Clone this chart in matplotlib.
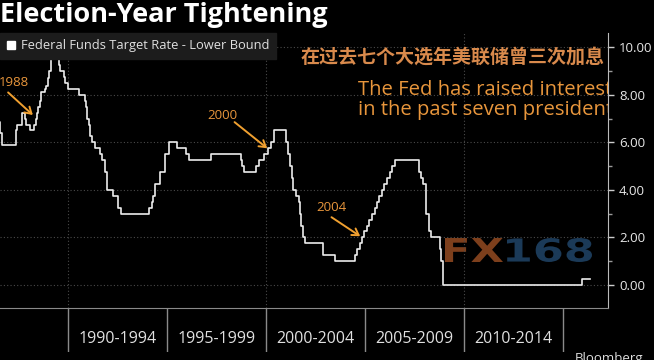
import matplotlib
matplotlib.use("Agg")
import matplotlib.pyplot as plt
from matplotlib.lines import Line2D
from matplotlib.textpath import TextPath
from matplotlib.patches import PathPatch
from matplotlib.font_manager import FontProperties
from matplotlib.transforms import Affine2D
from datetime import date

# Fed funds target (lower bound) - change dates and new levels
change_dates = [
    "1986-06-01", "1986-07-11", "1986-08-21", "1987-04-30", "1987-05-20",
    "1987-09-04", "1987-10-22", "1987-11-04", "1988-01-28", "1988-03-29",
    "1988-05-09", "1988-05-25", "1988-06-22", "1988-07-19", "1988-08-08",
    "1988-10-20", "1988-11-17", "1988-12-15", "1988-12-29", "1989-02-09",
    "1989-02-14", "1989-02-23", "1989-06-06", "1989-07-07", "1989-07-27",
    "1989-10-18", "1989-11-06", "1989-12-20", "1990-07-13", "1990-10-29",
    "1990-11-14", "1990-12-07", "1990-12-19", "1991-01-09", "1991-02-01",
    "1991-03-08", "1991-04-30", "1991-08-06", "1991-09-13", "1991-10-31",
    "1991-11-06", "1991-12-06", "1991-12-20", "1992-04-09", "1992-07-02",
    "1992-09-04", "1994-02-04", "1994-03-22", "1994-04-18", "1994-05-17",
    "1994-08-16", "1994-11-15", "1995-02-01", "1995-07-06", "1995-12-19",
    "1996-01-31", "1997-03-25", "1998-09-29", "1998-10-15", "1998-11-17",
    "1999-06-30", "1999-08-24", "1999-11-16", "2000-02-02", "2000-03-21",
    "2000-05-16", "2001-01-03", "2001-01-31", "2001-03-20", "2001-04-18",
    "2001-05-15", "2001-06-27", "2001-08-21", "2001-09-17", "2001-10-02",
    "2001-11-06", "2001-12-11", "2002-11-06", "2003-06-25", "2004-06-30",
    "2004-08-10", "2004-09-21", "2004-11-10", "2004-12-14", "2005-02-02",
    "2005-03-22", "2005-05-03", "2005-06-30", "2005-08-09", "2005-09-20",
    "2005-11-01", "2005-12-13", "2006-01-31", "2006-03-28", "2006-05-10",
    "2006-06-29", "2007-09-18", "2007-10-31", "2007-12-11", "2008-01-22",
    "2008-01-30", "2008-03-18", "2008-04-30", "2008-10-08", "2008-10-29",
    "2008-12-16", "2015-12-16", "2016-05-15",
]
rates = [
    6.875, 6.375, 5.875, 6.5, 6.75,
    7.25, 7.0, 6.75, 6.5, 6.75,
    7.0, 7.25, 7.5, 7.75, 8.125,
    8.25, 8.375, 8.6875, 9.0, 9.25,
    9.5, 9.75, 9.5, 9.25, 9.0,
    8.75, 8.5, 8.25, 8.0, 7.75,
    7.5, 7.25, 7.0, 6.75, 6.25,
    6.0, 5.75, 5.5, 5.25, 5.0,
    4.75, 4.5, 4.0, 3.75, 3.25,
    3.0, 3.25, 3.5, 3.75, 4.25,
    4.75, 5.5, 6.0, 5.75, 5.5,
    5.25, 5.5, 5.25, 5.0, 4.75,
    5.0, 5.25, 5.5, 5.75, 6.0,
    6.5, 6.0, 5.5, 5.0, 4.5,
    4.0, 3.75, 3.5, 3.0, 2.5,
    2.0, 1.75, 1.25, 1.0, 1.25,
    1.5, 1.75, 2.0, 2.25, 2.5,
    2.75, 3.0, 3.25, 3.5, 3.75,
    4.0, 4.25, 4.5, 4.75, 5.0,
    5.25, 4.75, 4.5, 4.25, 3.5,
    3.0, 2.25, 2.0, 1.5, 1.0,
    0.0, 0.25, 0.25,
]

period_edges = [1990, 1995, 2000, 2005, 2010, 2015]
period_labels = ["1990-1994", "1995-1999", "2000-2004", "2005-2009", "2010-2014"]

# (label, text pos, arrow tail, arrow tip) in year / rate
notes = [
    ("1988", (1987.25, 8.5), (1986.95, 8.1), (1988.2, 7.15)),
    ("2000", (1997.8, 7.15), (1998.4, 6.85), (2000.05, 5.75)),
    ("2004", (2003.3, 3.25), (2003.3, 2.85), (2004.75, 2.05)),
]


def to_year(s):
    d = date.fromisoformat(s)
    return d.year + (d - date(d.year, 1, 1)).days / 365.25


years = [to_year(s) for s in change_dates]

W, H = 654, 360
fig = plt.figure(figsize=(W / 100, H / 100), dpi=100, facecolor="black")
ax = fig.add_axes([0, 1 - 308 / H, 608 / W, (308 - 33) / H])
ax.set_facecolor("black")

orange = "#e8963c"
sans = ["Open Sans", "DejaVu Sans"]

ax.step(years, rates, where="post", color="#ececec", lw=1.2, zorder=3)

ax.set_xlim(1986.54, 2017.28)
ax.set_ylim(-0.97, 10.6)

ax.yaxis.tick_right()
ax.set_yticks([0, 2, 4, 6, 8, 10])
ax.set_yticklabels(["%.2f" % v for v in [0, 2, 4, 6, 8, 10]], family=sans)
ax.set_yticks([1, 3, 5, 7, 9], minor=True)
ax.tick_params(axis="y", which="major", direction="out", length=4, width=1,
               color="#cccccc", labelcolor="#e8e8e8", labelsize=9.5, pad=4)
ax.tick_params(axis="y", which="minor", direction="out", length=3, width=1,
               color="#999999")
ax.set_xticks([1990, 2000, 2010])
ax.tick_params(axis="x", length=0, labelbottom=False)
ax.grid(True, which="major", color="#4a4a4a", lw=0.8, ls=(0, (1, 2)))

for s in ["left", "top"]:
    ax.spines[s].set_visible(False)
ax.spines["right"].set_color("#bbbbbb")
ax.spines["bottom"].set_color("#8a8a8a")

# legend box
h = Line2D([], [], marker="s", ls="none", color="white", markersize=6)
leg = ax.legend([h], ["Federal Funds Target Rate - Lower Bound"], loc="upper left",
                bbox_to_anchor=(0, 1), borderaxespad=0, fancybox=False,
                facecolor="#1c1c1c", edgecolor="#1c1c1c", framealpha=1,
                handlelength=0.7, handletextpad=0.4, borderpad=0.5,
                prop={"family": sans, "size": 9.3})
for t in leg.get_texts():
    t.set_color("#e0e0e0")

# annotations
for label, tpos, tail, tip in notes:
    ax.text(tpos[0], tpos[1], label, color=orange, fontsize=9.5, family=sans,
            ha="center", va="center", zorder=4)
    ax.annotate("", xy=tip, xytext=tail,
                arrowprops=dict(arrowstyle="->,head_length=0.45,head_width=0.28",
                                color="#f0a030", lw=1.4, shrinkA=0, shrinkB=0))

# watermark, stretched to its box (pixel box from top-left)
px = Affine2D().scale(1 / W, 1 / H) + fig.transFigure
fp = FontProperties(family="DejaVu Sans", weight="bold")
for txt, box, col in [("FX", (445, 503, 238, 262), "#7d3f1c"),
                      ("168", (507, 592, 238, 262), "#1b3a58")]:
    p = TextPath((0, 0), txt, size=100, prop=fp)
    e = p.get_extents()
    tr = (Affine2D().translate(-e.x0, -e.y0)
          .scale((box[1] - box[0]) / e.width, (box[3] - box[2]) / e.height)
          .translate(box[0], H - box[3]))
    ax.add_patch(PathPatch(p, transform=tr + px, fc=col, lw=0, zorder=1))

# headline texts
fig.text(0.0, 1 - 15 / H, "Election-Year Tightening", color="white",
         fontsize=19.5, fontweight="bold", family=sans,
         ha="left", va="center")
fig.text(605 / W, 1 - 57 / H, "在过去七个大选年美联储曾三次加息", color="#d98a4c",
         fontsize=13.7, fontweight="bold", family=["Noto Sans CJK SC", "DejaVu Sans"],
         ha="right", va="center")
for i, line in enumerate(["The Fed has raised interest rates three times",
                          "in the past seven presidential election years"]):
    ax.text(358 / W, 1 - (90 + 20 * i) / H, line, transform=fig.transFigure,
            color=orange, fontsize=14.6, family=sans, ha="left", va="center",
            clip_on=True)

# period strip under the axis
lab = fig.add_axes([0, 1 - 352 / H, 608 / W, 44 / H])
lab.set_xlim(ax.get_xlim())
lab.set_ylim(0, 1)
lab.axis("off")
lab.vlines(period_edges, 0, 1, color="#8a8a8a", lw=1)
for i, lbl in enumerate(period_labels):
    mid = (period_edges[i] + period_edges[i + 1]) / 2
    lab.text(mid, 0.3, lbl, color="#e0e0e0", fontsize=11.5, family=sans,
             ha="center", va="center")

fig.text(575 / W, 1 - 352 / H, "Bloomberg", color="#dddddd", fontsize=9.5,
         family=sans, ha="left", va="top")

fig.savefig("out.png", dpi=100, facecolor="black")
